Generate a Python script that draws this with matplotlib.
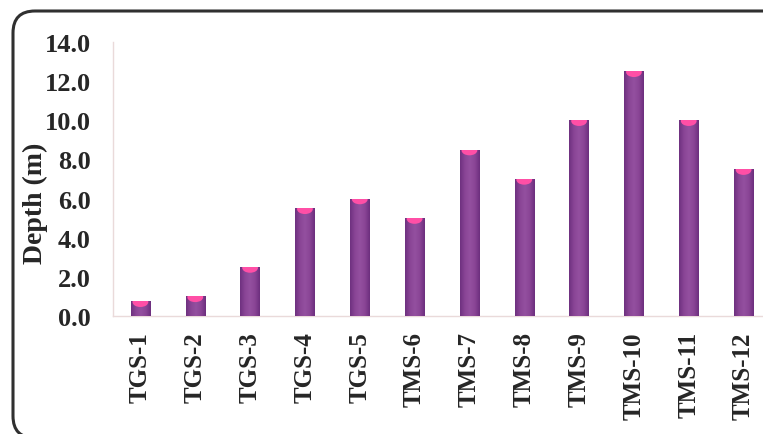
import numpy as np
import matplotlib
matplotlib.use("Agg")
import matplotlib.pyplot as plt
from matplotlib.patches import Ellipse, FancyBboxPatch
from matplotlib.colors import LinearSegmentedColormap
from matplotlib.transforms import IdentityTransform

# sampling points and measured depth
sites = ["TGS-1", "TGS-2", "TGS-3", "TGS-4", "TGS-5", "TMS-6",
         "TMS-7", "TMS-8", "TMS-9", "TMS-10", "TMS-11", "TMS-12"]
depth_m = [0.75, 1.0, 2.5, 5.5, 6.0, 5.0, 8.5, 7.0, 10.0, 12.5, 10.0, 7.5]
y_ticks = [0, 2, 4, 6, 8, 10, 12, 14]

plt.rcParams["font.family"] = ["Liberation Serif", "DejaVu Serif"]
plt.rcParams["font.weight"] = "bold"

W, H = 763, 435
fig = plt.figure(figsize=(W / 100, H / 100), dpi=100)
ax = fig.add_axes([113 / W, 118 / H, 658 / W, 274 / H])

x = np.arange(len(sites))
bw = 0.35
bars = ax.bar(x, depth_m, width=bw, color="#86438f", zorder=2)

# cylinder shading across each bar + pink top cap
cyl = LinearSegmentedColormap.from_list(
    "cyl", ["#6e3180", "#8a4596", "#9450a0", "#8a4596", "#6c2f7e"])
grad = np.linspace(0, 1, 64).reshape(1, -1)
for b, v in zip(bars, depth_m):
    x0 = b.get_x()
    im = ax.imshow(grad, extent=[x0, x0 + bw, 0, v], aspect="auto",
                   cmap=cyl, zorder=3, interpolation="bilinear")
    im.set_clip_path(b)
    cap = Ellipse((x0 + bw / 2, v - 0.04), bw * 0.82, 0.5, facecolor="#ff4fa6",
                  edgecolor="none", zorder=4)
    ax.add_patch(cap)
    cap.set_clip_path(b)

ax.set_xlim(-0.5, len(sites) - 0.5)
ax.set_ylim(0, 14)
ax.set_yticks(y_ticks)
ax.set_yticklabels([f"{t:.1f}" for t in y_ticks], fontsize=19, fontweight="bold")
ax.set_xticks(x)
ax.set_xticklabels(sites, rotation=90, fontsize=18, fontweight="bold")
ax.tick_params(axis="y", length=0, pad=16, colors="#262626")
ax.tick_params(axis="x", length=0, pad=11, colors="#262626")

ax.set_ylabel("Depth (m)", fontsize=20, fontweight="bold", color="#262626")
ax.yaxis.set_label_coords(-0.099, 0.416)

for s in ["top", "right"]:
    ax.spines[s].set_visible(False)
for s in ["left", "bottom"]:
    ax.spines[s].set_color("#eadada")
    ax.spines[s].set_linewidth(1.0)

# rounded frame around the chart
frame = FancyBboxPatch((13, -4), 775, H - 12 + 4,
                       boxstyle="round,pad=0,rounding_size=22",
                       transform=IdentityTransform(), facecolor="none",
                       edgecolor="#303030", linewidth=2.2)
fig.patches.append(frame)

fig.savefig("out.png", dpi=100)
